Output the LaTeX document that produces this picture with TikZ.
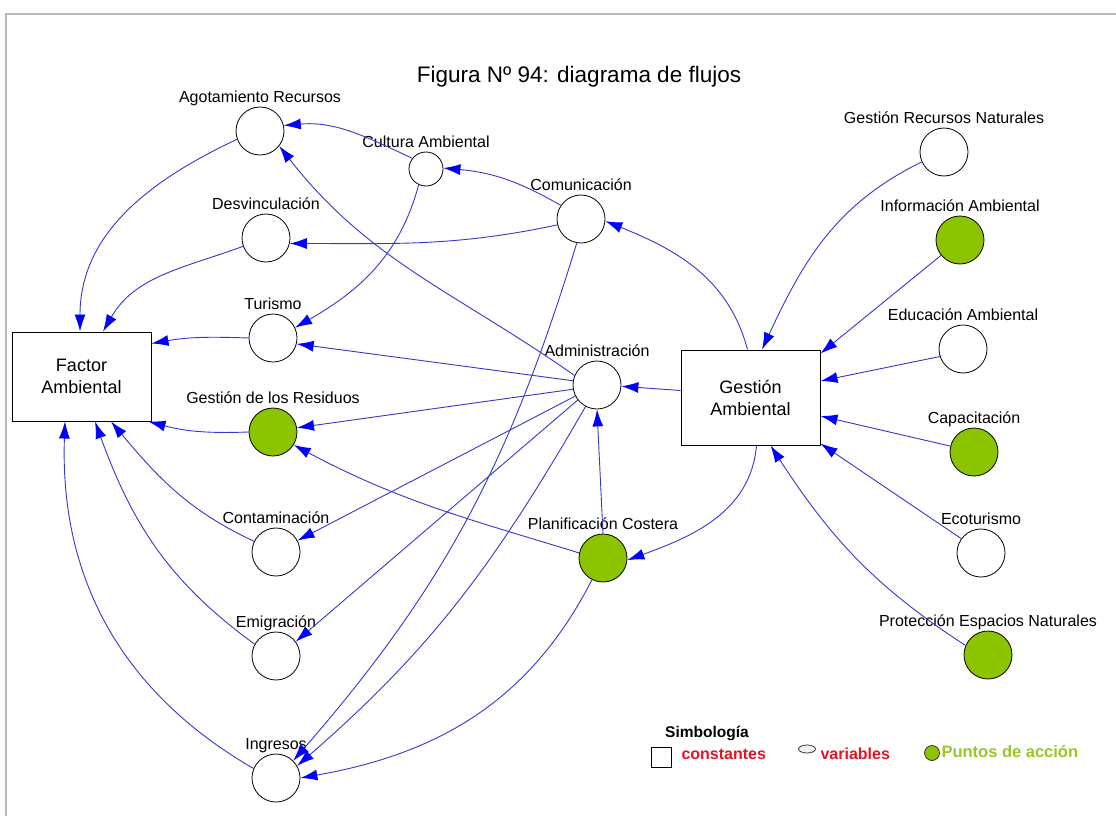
\documentclass[tikz,border=0pt]{standalone}
\usepackage{fontspec}
\setmainfont{Liberation Sans}
\usepackage{tikz}
\usepackage{xcolor}
\usetikzlibrary{arrows.meta,positioning,shapes.geometric}
\definecolor{flowblue}{RGB}{55,55,200}
\definecolor{accgreen}{RGB}{140,196,0}
\definecolor{legred}{RGB}{225,20,40}
\definecolor{leggreen}{RGB}{150,200,40}

\begin{document}
\begin{tikzpicture}[x=1pt,y=1pt,every node/.style={font=\fontsize{16}{19}\selectfont},
  var/.style={circle,draw=black,line width=0.8pt,fill=white,minimum size=48pt,inner sep=0pt},
  act/.style={var,fill=accgreen},
  cte/.style={rectangle,draw=black,line width=1pt,fill=white,minimum width=139pt,align=center,font=\fontsize{18}{22}\selectfont},
  lbl/.style={inner sep=0pt,text height=0.75em,text depth=0.25em},
  flow/.style={draw=flowblue,line width=0.9pt,-{Latex[length=17pt,width=11pt,color=blue]}}]
\useasboundingbox (0,0) rectangle (1116,-816);
\fill[white] (0,0) rectangle (1116,-816);
\draw[gray!55,line width=2pt] (1116,-14) -- (6,-14) -- (6,-816);
\node (title) at (579,-77) {\fontsize{22.5}{25}\selectfont Figura Nº 94: diagrama de flujos};

% constantes
\node[cte,minimum height=89pt] (fact) at (81.5,-376.5) {Factor\\Ambiental};
\node[cte,minimum height=95pt] (gamb) at (750.5,-397.5) {Gestión\\Ambiental};

% variables, left side
\node[var] (agot) at (260,-131) {};
\node[var,minimum size=34pt] (cult) at (426,-169) {};
\node[var] (comu) at (581,-219) {};
\node[var] (desv) at (266,-238) {};
\node[var] (turi) at (273,-338) {};
\node[act] (resi) at (273,-432) {};
\node[var] (admi) at (597,-385) {};
\node[var] (cont) at (276,-552) {};
\node[act] (plan) at (603,-558) {};
\node[var] (emig) at (276,-656) {};
\node[var] (ingr) at (276,-778) {};
% variables, right side
\node[var] (grn) at (944,-152) {};
\node[act] (infa) at (960,-240) {};
\node[var] (educ) at (963,-349) {};
\node[act] (capa) at (974,-452) {};
\node[var] (ecot) at (981,-553) {};
\node[act] (prot) at (988,-655) {};

% labels
\node[lbl,above=1pt of agot] (agotL) {Agotamiento Recursos};
\node[lbl,above=1pt of cult] (cultL) {Cultura Ambiental};
\node[lbl,above=1pt of comu] (comuL) {Comunicación};
\node[lbl,above=1pt of desv] (desvL) {Desvinculación};
\node[lbl,above=1pt of turi] (turiL) {Turismo};
\node[lbl,above=1pt of resi] (resiL) {Gestión de los Residuos};
\node[lbl,above=1pt of admi] (admiL) {Administración};
\node[lbl,above=1pt of cont] (contL) {Contaminación};
\node[lbl,above=1pt of plan] (planL) {Planificación Costera};
\node[lbl,above=1pt of emig] (emigL) {Emigración};
\node[lbl,above=1pt of ingr] (ingrL) {Ingresos};
\node[lbl,above=1pt of grn] (grnL) {Gestión Recursos Naturales};
\node[lbl,above=1pt of infa] (infaL) {Información Ambiental};
\node[lbl,above=1pt of educ] (educL) {Educación Ambiental};
\node[lbl,above=1pt of capa] (capaL) {Capacitación};
\node[lbl,above=1pt of ecot] (ecotL) {Ecoturismo};
\node[lbl,above=1pt of prot] (protL) {Protección Espacios Naturales};

% flujos hacia Factor Ambiental
\draw[flow] (agot.200) to[out=205,in=90] ([xshift=-1.5pt]fact.north);
\draw[flow] (desv.200) to[out=200,in=60] ([xshift=21.5pt]fact.north);
\draw[flow] (turi.west) to[out=178,in=10] ([yshift=33pt]fact.east);
\draw[flow] (resi.west) to[out=182,in=-15] ([xshift=-3pt]fact.south east);
\draw[flow] (cont.154) to[out=155,in=-50] ([xshift=29.5pt]fact.south);
\draw[flow] (emig.151) to[out=144,in=-70] ([xshift=13.5pt]fact.south);
\draw[flow] (ingr.157) to[out=150,in=-92] ([xshift=-16.5pt]fact.south);

% flujos entre variables
\draw[flow] (cult.142) to[out=155,in=5] (agot.13);
\draw[flow] (comu.146) to[out=150,in=-5] (cult.3);
\draw[flow] (comu.194) to[out=192,in=0] (desv.-13);
\draw[flow] (cult.245) to[out=255,in=30] (turi.25);
\draw[flow] (admi.157) to[out=145,in=-52] (agot.-38);
\draw[flow] (admi.170) -- (turi.-14);
\draw[flow] (admi.190) -- (resi.10);
\draw[flow] (admi.207) -- (cont.28);
\draw[flow] (admi.218) -- (emig.36);
\draw[flow] (admi.242) to[out=240,in=41] (ingr.30);
\draw[flow] (comu.260) to[out=253,in=49] (ingr.45);
\draw[flow] (plan.168) to[out=163,in=-28] (resi.-32);
\draw[flow] (plan.north) -- (admi.south);
\draw[flow] (plan.243) to[out=243,in=10] (ingr.east);

% flujos desde Gestion Ambiental
\draw[flow] ([yshift=7pt]gamb.west) -- (admi.-3);
\draw[flow] ([xshift=-3pt]gamb.north) to[out=105,in=-22] (comu.-5);
\draw[flow] ([xshift=6pt]gamb.south) to[out=265,in=20] (plan.-5);

% flujos hacia Gestion Ambiental
\draw[flow] (grn.204) to[out=206,in=65] ([xshift=11.5pt]gamb.north);
\draw[flow] (infa.219) -- ([yshift=-4pt]gamb.north east);
\draw[flow] (educ.198) -- ([yshift=16.5pt]gamb.east);
\draw[flow] (capa.166) -- ([yshift=-18.5pt]gamb.east);
\draw[flow] (ecot.144) -- ([yshift=2pt]gamb.south east);
\draw[flow] (prot.157) to[out=147,in=-57] ([xshift=20pt]gamb.south);

% simbologia
\node[font=\fontsize{15.5}{18}\selectfont\bfseries] (simb) at (707,-733) {Simbología};
\node[draw=black,line width=0.9pt,minimum size=20pt,inner sep=0pt] (symC) at (661,-757) {};
\node[anchor=west,text=legred,font=\fontsize{16}{18}\selectfont\bfseries] (txtC) at (678,-754) {constantes};
\node[ellipse,draw=black!80,fill=gray!10,line width=0.8pt,minimum width=17pt,minimum height=8pt,inner sep=0pt] (symV) at (807,-749) {};
\node[anchor=west,text=legred,font=\fontsize{16}{18}\selectfont\bfseries] (txtV) at (817,-754) {variables};
\node[circle,draw=black!80,fill=accgreen,line width=0.8pt,minimum size=15pt,inner sep=0pt] (symA) at (932,-753) {};
\node[anchor=west,text=leggreen,font=\fontsize{16.5}{18}\selectfont\bfseries] (txtA) at (938,-752) {Puntos de acción};
\end{tikzpicture}
\end{document}
